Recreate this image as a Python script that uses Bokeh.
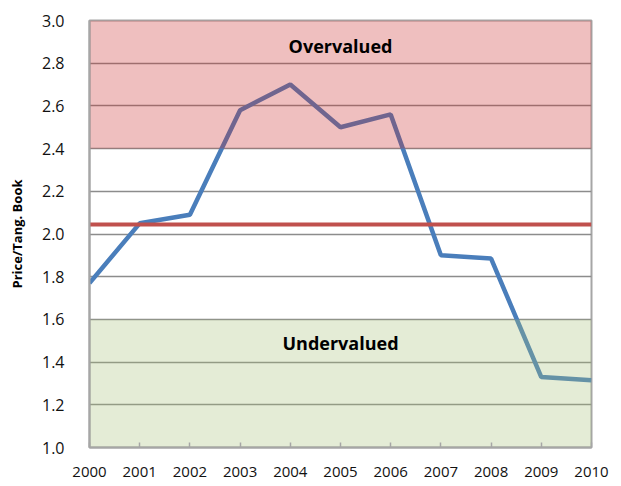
from bokeh.plotting import figure
from bokeh.embed import file_html
from bokeh.resources import INLINE
from bokeh.models import FixedTicker, Label

years = [2000, 2001, 2002, 2003, 2004, 2005, 2006, 2007, 2008, 2009, 2010]
ratio = [1.77, 2.05, 2.09, 2.58, 2.70, 2.50, 2.56, 1.90, 1.885, 1.33, 1.315]
average = 2.045
over_band = (2.4, 3.0)
under_band = (1.0, 1.6)
y_ticks = [1.0, 1.2, 1.4, 1.6, 1.8, 2.0, 2.2, 2.4, 2.6, 2.8, 3.0]

FONT = "Open Sans"

p = figure(width=615, height=486, output_backend="svg", toolbar_location=None,
           x_range=(2000, 2010), y_range=(1.0, 3.0),
           min_border_left=89, min_border_right=24, min_border_top=20, min_border_bottom=39)
p.background_fill_color = "white"
p.border_fill_color = "white"
p.outline_line_color = "#a6a6a6"
p.outline_line_width = 2

# grid
p.xgrid.grid_line_color = None
p.ygrid.grid_line_color = "#8c8c8c"
p.ygrid.grid_line_width = 1.5
p.ygrid.ticker = FixedTicker(ticks=y_ticks)

# axes
p.xaxis.ticker = FixedTicker(ticks=years)
p.yaxis.ticker = FixedTicker(ticks=y_ticks)
p.yaxis.major_label_overrides = {t: f"{t:.1f}" for t in y_ticks}
p.xaxis.major_label_overrides = {y: str(y) for y in years}
for ax in (p.xaxis[0], p.yaxis[0]):
    ax.axis_line_color = "#a6a6a6"
    ax.axis_line_width = 2
    ax.major_label_text_font = FONT
    ax.major_label_text_font_size = "16px"
    ax.major_label_text_color = "#111111"
    ax.minor_tick_line_color = None
p.xaxis.major_label_text_font_size = "15px"
p.xaxis.major_tick_in = 5
p.xaxis.major_tick_out = 0
p.xaxis.major_tick_line_color = "#a6a6a6"
p.xaxis.major_tick_line_width = 1.5
p.xaxis.major_label_standoff = 19
p.yaxis.major_tick_line_color = None
p.yaxis.major_label_standoff = 19
p.yaxis.axis_label = "Price/Tang. Book"
p.yaxis.axis_label_text_font = FONT
p.yaxis.axis_label_text_font_style = "bold"
p.yaxis.axis_label_text_font_size = "13px"
p.yaxis.axis_label_text_color = "#000000"
p.yaxis.axis_label_standoff = 13

# data line
p.line(years, ratio, line_color="#4a7ebb", line_width=4.5)

# shaded bands on top (semi-transparent)
p.quad(left=years[0], right=years[-1], bottom=over_band[0], top=over_band[1],
       fill_color="#ca2a2a", fill_alpha=0.3, line_color=None)
p.quad(left=years[0], right=years[-1], bottom=under_band[0], top=under_band[1],
       fill_color="#a5c076", fill_alpha=0.3, line_color=None)

# average line
p.line([years[0], years[-1]], [average, average], line_color="#c0504d", line_width=4)

p.add_layout(Label(x=2005, y=2.88, text="Overvalued", text_font=FONT,
                   text_font_style="bold", text_font_size="18px", text_color="#000000",
                   text_align="center", text_baseline="middle"))
p.add_layout(Label(x=2005, y=1.49, text="Undervalued", text_font=FONT,
                   text_font_style="bold", text_font_size="18px", text_color="#000000",
                   text_align="center", text_baseline="middle"))

open("out.html", "w").write(file_html(p, INLINE))
